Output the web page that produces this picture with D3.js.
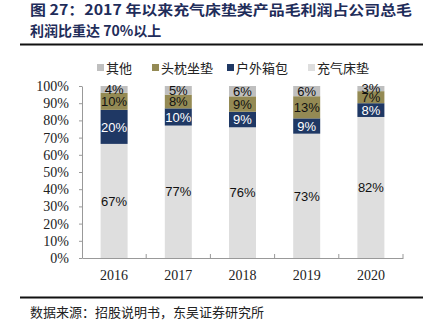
<!DOCTYPE html>
<html>
<head>
<meta charset="utf-8">
<script src="https://cdn.jsdelivr.net/npm/d3@7"></script>
<style>
  body { margin: 0; background: #fff; }
  svg { display: block; }
</style>
</head>
<body>
<svg id="chart" width="427" height="333"></svg>
<script>
// data
const years = ['2016', '2017', '2018', '2019', '2020']
const seriesNames = ['充气床垫', '户外箱包', '头枕坐垫', '其他']
const mattress = [67, 77, 76, 73, 82]
const outdoor = [20, 10, 9, 9, 8]
const headrest = [10, 8, 9, 13, 7]
const other = [4, 5, 6, 6, 3]
const yTicks = [0, 10, 20, 30, 40, 50, 60, 70, 80, 90, 100]

const colors = {
	'充气床垫': '#dedede',
	'户外箱包': '#1f3864',
	'头枕坐垫': '#948a54',
	'其他': '#bfbfbf'
}

const rows = years.map((y, i) => ({
	year: y,
	'充气床垫': mattress[i],
	'户外箱包': outdoor[i],
	'头枕坐垫': headrest[i],
	'其他': other[i]
}))

const svg = d3.select('#chart')
const serif = '"Liberation Serif", "DejaVu Serif", serif'
const cjk = '"Noto Sans CJK SC", sans-serif'
const titleColor = '#1f2d5a'

// title
const title = svg.append('g')
	.attr('font-family', cjk)
	.attr('font-weight', 'bold')
	.attr('font-size', 14)
	.attr('fill', titleColor)
title.append('text').attr('x', 30).attr('y', 15)
	.attr('textLength', 382).attr('lengthAdjust', 'spacingAndGlyphs')
	.text('图 27：2017 年以来充气床垫类产品毛利润占公司总毛')
title.append('text').attr('x', 30).attr('y', 36)
	.text('利润比重达 70%以上')

svg.append('line').attr('x1', 20).attr('x2', 423).attr('y1', 44.5).attr('y2', 44.5)
	.attr('stroke', '#111').attr('stroke-width', 2)
svg.append('line').attr('x1', 20).attr('x2', 423).attr('y1', 297.5).attr('y2', 297.5)
	.attr('stroke', '#111').attr('stroke-width', 2)

svg.append('text').attr('x', 30).attr('y', 317)
	.attr('font-family', cjk).attr('font-size', 13).attr('fill', '#222')
	.text('数据来源：招股说明书，东吴证券研究所')

const margin = {top: 86, right: 24, bottom: 75, left: 82}
const width = 427, height = 333

const x = d3.scaleBand()
	.domain(years)
	.range([margin.left, width - margin.right])
	.paddingInner(0)

const y = d3.scaleLinear()
	.domain([0, 1])
	.range([height - margin.bottom, margin.top])

const stack = d3.stack()
	.keys(seriesNames)
	.offset(d3.stackOffsetExpand)
const layers = stack(rows)

// y axis
const yAxis = svg.append('g')
	.attr('transform', 'translate(' + margin.left + ',0)')
	.call(d3.axisLeft(y).tickValues(yTicks.map(v => v / 100))
		.tickFormat((d, i) => yTicks[i] + '%').tickSize(3).tickSizeOuter(0).tickPadding(10))
yAxis.select('.domain').attr('stroke', '#999')
yAxis.selectAll('.tick line').attr('stroke', '#999')
yAxis.selectAll('.tick text').attr('font-family', serif).attr('font-size', 14).attr('fill', '#222')

// x axis with ticks between bands pointing up
const xAxis = svg.append('g')
	.attr('transform', 'translate(0,' + y(0) + ')')
	.call(d3.axisBottom(x).tickSize(0).tickPadding(12))
xAxis.select('.domain').attr('stroke', '#999')
xAxis.selectAll('.tick text').attr('font-family', serif).attr('font-size', 14).attr('fill', '#222')
xAxis.selectAll('.sep')
	.data(years)
	.join('line')
	.attr('class', 'sep')
	.attr('x1', d => x(d) + x.bandwidth())
	.attr('x2', d => x(d) + x.bandwidth())
	.attr('y1', 0).attr('y2', -4)
	.attr('stroke', '#999')

// bars
const barW = 27
const groups = svg.append('g').selectAll('g')
	.data(layers)
	.join('g')
	.attr('fill', d => colors[d.key])

groups.selectAll('rect')
	.data(d => d)
	.join('rect')
	.attr('x', d => x(d.data.year) + (x.bandwidth() - barW) / 2)
	.attr('y', d => y(d[1]))
	.attr('height', d => y(d[0]) - y(d[1]))
	.attr('width', barW)

// value labels
const labels = svg.append('g')
	.attr('font-family', '"Liberation Sans", Arial, sans-serif')
	.attr('font-size', 13)
	.attr('text-anchor', 'middle')
layers.forEach(layer => {
	labels.selectAll(null)
		.data(layer)
		.join('text')
		.attr('x', d => x(d.data.year) + x.bandwidth() / 2)
		.attr('y', d => (y(d[0]) + y(d[1])) / 2)
		.attr('dy', '0.36em')
		.attr('fill', layer.key === '户外箱包' ? '#fff' : '#111')
		.text(d => d.data[layer.key] + '%')
})

// legend
const legendItems = ['其他', '头枕坐垫', '户外箱包', '充气床垫']
const legendX = [97, 152, 227, 308]
const legend = svg.append('g')
	.attr('font-family', cjk)
	.attr('font-size', 13)
	.attr('fill', '#222')
legend.selectAll('rect')
	.data(legendItems)
	.join('rect')
	.attr('x', (d, i) => legendX[i])
	.attr('y', 64)
	.attr('width', 7).attr('height', 7)
	.attr('fill', d => colors[d])
legend.selectAll('text')
	.data(legendItems)
	.join('text')
	.attr('x', (d, i) => legendX[i] + 9)
	.attr('y', 68)
	.attr('dy', '0.36em')
	.text(d => d)
</script>
</body>
</html>
